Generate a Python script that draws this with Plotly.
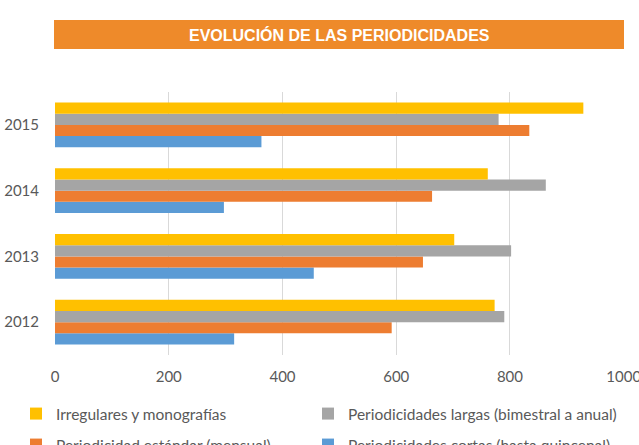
import plotly.graph_objects as go

years = ["2012", "2013", "2014", "2015"]
irregulares = [773, 702, 761, 929]
largas = [790, 802, 863, 780]
estandar = [592, 647, 663, 834]
cortas = [315, 455, 297, 363]

names = ["Periodicidades cortas (hasta quincenal)", "Periodicidad estándar (mensual)",
         "Periodicidades largas (bimestral a anual)", "Irregulares y monografías"]
colors = ["#5B9BD5", "#ED7D31", "#A5A5A5", "#FFC000"]
series = [cortas, estandar, largas, irregulares]
legends = ["legend4", "legend3", "legend2", "legend"]

FONT = "Lato"
TXT = "#595959"
W, H = 639, 445

fig = go.Figure()
for nm, col, vals, lg in zip(names, colors, series, legends):
    fig.add_trace(go.Bar(y=years, x=vals, name=nm, orientation="h",
                         marker=dict(color=col, line=dict(width=0)), legend=lg))


def leg(xpx, ypx):
    return dict(orientation="h", font=dict(family=FONT, size=15.5, color=TXT),
                bgcolor="rgba(0,0,0,0)", xref="container", yref="container",
                x=xpx / W, y=1 - ypx / H, xanchor="left", yanchor="middle", itemwidth=30)


fig.update_layout(
    width=W, height=H,
    margin=dict(l=55, r=15, t=92, b=90, autoexpand=False),
    paper_bgcolor="#FFFFFF", plot_bgcolor="#FFFFFF",
    barmode="group", bargap=0.317, bargroupgap=0,
    font=dict(family=FONT, size=15, color=TXT),
    showlegend=True,
    legend=leg(16, 414),
    legend2=leg(308, 414),
    legend3=leg(16, 452),
    legend4=leg(308, 452),
    xaxis=dict(range=[0, 1000.5], tickvals=[0, 200, 400, 600, 800, 1000], showgrid=True,
               gridcolor="#D9D9D9", gridwidth=1, zeroline=False, showline=False,
               ticks="outside", ticklen=8, tickcolor="rgba(0,0,0,0)", ticklabeloverflow="allow",
               tickfont=dict(family=FONT, size=15, color=TXT), fixedrange=True, automargin=False),
    yaxis=dict(type="category", categoryorder="array", categoryarray=years, showgrid=False,
               zeroline=False, showline=False, ticks="outside", ticklen=12, tickcolor="rgba(0,0,0,0)",
               tickfont=dict(family=FONT, size=15, color=TXT), automargin=False),
    shapes=[dict(type="rect", xref="paper", yref="paper", x0=-1 / 569, x1=1.0,
                 y0=(355 - 49) / 263, y1=(355 - 20) / 263,
                 fillcolor="#EE8A2A", line=dict(width=0), layer="above")],
    annotations=[dict(text="<b>EVOLUCIÓN DE LAS PERIODICIDADES</b>", xref="paper", yref="paper",
                      x=0.5, y=(355 - 35) / 263, showarrow=False, xanchor="center", yanchor="middle",
                      font=dict(family="Liberation Sans", size=16, color="#FFFFFF"))],
)

fig.write_html("out.html")
